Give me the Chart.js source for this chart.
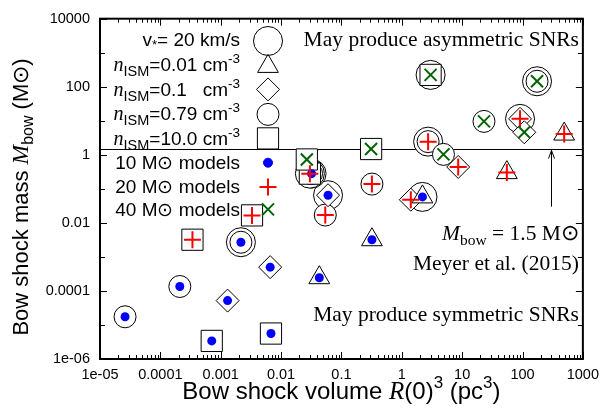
<!DOCTYPE html>
<html>
<head>
<meta charset="utf-8">
<script src="https://cdn.jsdelivr.net/npm/chart.js@4/dist/chart.umd.min.js"></script>
<style>
  html, body { margin: 0; padding: 0; background: #fff; }
  #wrap { width: 606px; height: 416px; }
</style>
</head>
<body>
<div id="wrap"><canvas id="bowChart"></canvas></div>
<script>
// Axis ticks
const xTickValues = [1e-5, 1e-4, 1e-3, 1e-2, 1e-1, 1, 10, 100, 1000];
const xTickLabels = ['1e-05', '0.0001', '0.001', '0.01', '0.1', '1', '10', '100', '1000'];
const yTickValues = [1e-6, 1e-4, 1e-2, 1, 100, 10000];
const yTickLabels = ['1e-06', '0.0001', '0.01', '1', '100', '10000'];

// 10 Msun models: bow shock volume (pc^3), bow shock mass (Msun), n_ISM, v=20 km/s flag
const m10Volume = [2.6e-5, 2.1e-4, 7.1e-4, 1.3e-3, 2.16e-3, 6.6e-3, 6.8e-3, 0.043, 0.32, 0.060, 2.2, 0.032];
const m10Mass = [1.74e-5, 1.35e-4, 3.4e-6, 5.2e-5, 2.7e-3, 5.0e-4, 5.6e-6, 2.45e-4, 3.2e-3, 0.065, 0.058, 0.28];
const m10Density = ['0.79', '0.79', '10', '0.1', '0.79', '0.1', '10', '0.01', '0.01', '0.1', '0.01', '0.79'];
const m10Fast = [0, 0, 0, 0, 1, 0, 0, 0, 0, 1, 1, 1];

// 20 Msun models
const m20Volume = [3.4e-4, 3.3e-3, 0.054, 0.32, 1.41, 2.73, 8.6, 55, 91, 490, 0.030];
const m20Mass = [3.2e-3, 0.0166, 0.017, 0.138, 0.048, 2.44, 0.44, 0.30, 11.4, 4.07, 0.28];
const m20Density = ['10', '10', '0.79', '0.79', '0.1', '0.79', '0.1', '0.01', '0.1', '0.01', '10'];
const m20Fast = [0, 0, 0, 0, 0, 1, 0, 0, 1, 0, 1];

// 40 Msun models
const m40Volume = [0.0267, 0.31, 4.9, 23, 3.0, 174, 107];
const m40Mass = [0.73, 1.48, 1.03, 9.6, 223, 145, 4.6];
const m40Density = ['10', '10', '0.79', '0.79', '10', '0.79', '0.1'];
const m40Fast = [0, 0, 0, 0, 1, 1, 0];

// Meyer et al. (2015) reference mass and arrow
const meyerMass = 1.5;
const arrowVolume = 300;
const arrowBase = 0.03;

const sans = 'Liberation Sans, Arial, sans-serif';
const serif = 'Liberation Serif, Times New Roman, serif';
const sun = '\u2299';

const densityStyle = {
  '0.01': { pointStyle: 'triangle', radius: 12 },
  '0.1': { pointStyle: 'rectRot', radius: 11.5 },
  '0.79': { pointStyle: 'circle', radius: 11 },
  '10': { pointStyle: 'rect', radius: 15 }
};
const bigRadius = 14.5;

const groups = [
  { vol: m10Volume, mass: m10Mass, dens: m10Density, fast: m10Fast, style: 'circle', radius: 4.5, color: '#0000ff', width: 0 },
  { vol: m20Volume, mass: m20Mass, dens: m20Density, fast: m20Fast, style: 'cross', radius: 8.5, color: '#ff0000', width: 2 },
  { vol: m40Volume, mass: m40Mass, dens: m40Density, fast: m40Fast, style: 'crossRot', radius: 8.5, color: '#006400', width: 2 }
];

function pick(test) {
  const out = [];
  groups.forEach(g => g.vol.forEach((v, i) => {
    if (test(g, i)) out.push({ x: v, y: g.mass[i] });
  }));
  return out;
}

const datasets = [];
// v = 20 km/s big circles (bottom layer)
datasets.push({
  data: pick((g, i) => g.fast[i]),
  pointStyle: 'circle', pointRadius: bigRadius,
  pointBackgroundColor: '#fff', pointBorderColor: '#000', pointBorderWidth: 1,
  order: 5
});
// density shapes
Object.keys(densityStyle).forEach((key, k) => {
  datasets.push({
    data: pick((g, i) => g.dens[i] === key),
    pointStyle: densityStyle[key].pointStyle, pointRadius: densityStyle[key].radius,
    pointBackgroundColor: '#fff', pointBorderColor: '#000', pointBorderWidth: 1,
    order: 4
  });
});
// model markers on top
groups.forEach((g, k) => {
  datasets.push({
    data: g.vol.map((v, i) => ({ x: v, y: g.mass[i] })),
    pointStyle: g.style, pointRadius: g.radius,
    pointBackgroundColor: g.color, pointBorderColor: g.color, pointBorderWidth: g.width,
    order: 2 - k
  });
});

// draw text made of several font pieces
function drawRich(ctx, parts, x, y, align) {
  let total = 0;
  parts.forEach(p => { ctx.font = p.f; p.w = ctx.measureText(p.t).width; total += p.w; });
  let cx = align === 'right' ? x - total : align === 'center' ? x - total / 2 : x;
  ctx.textAlign = 'left';
  ctx.textBaseline = 'alphabetic';
  parts.forEach(p => {
    ctx.font = p.f;
    ctx.fillText(p.t, cx, y + (p.dy || 0));
    cx += p.w;
  });
}

function drawMarker(ctx, style, x, y, r) {
  ctx.beginPath();
  if (style === 'circle') {
    ctx.arc(x, y, r, 0, Math.PI * 2);
  } else if (style === 'triangle') {
    ctx.moveTo(x, y - r);
    ctx.lineTo(x + r * Math.sin(2 * Math.PI / 3), y - r * Math.cos(2 * Math.PI / 3));
    ctx.lineTo(x + r * Math.sin(4 * Math.PI / 3), y - r * Math.cos(4 * Math.PI / 3));
    ctx.closePath();
  } else if (style === 'rectRot') {
    ctx.moveTo(x - r, y); ctx.lineTo(x, y - r); ctx.lineTo(x + r, y); ctx.lineTo(x, y + r);
    ctx.closePath();
  } else if (style === 'rect') {
    const s = Math.SQRT1_2 * r;
    ctx.rect(x - s, y - s, 2 * s, 2 * s);
  } else if (style === 'cross') {
    ctx.moveTo(x - r, y); ctx.lineTo(x + r, y); ctx.moveTo(x, y - r); ctx.lineTo(x, y + r);
    ctx.stroke();
    return;
  } else if (style === 'crossRot') {
    const s = Math.SQRT1_2 * r;
    ctx.moveTo(x - s, y - s); ctx.lineTo(x + s, y + s); ctx.moveTo(x - s, y + s); ctx.lineTo(x + s, y - s);
    ctx.stroke();
    return;
  }
  ctx.fill();
  if (ctx.lineWidth > 0) ctx.stroke();
}

const decorPlugin = {
  id: 'decor',
  beforeDatasetsDraw(chart) {
    const { ctx, chartArea, scales } = chart;
    const yl = Math.round(scales.y.getPixelForValue(meyerMass)) + 0.5;
    const xa = Math.round(scales.x.getPixelForValue(arrowVolume)) + 0.5;
    const yb = scales.y.getPixelForValue(arrowBase);
    ctx.save();
    ctx.strokeStyle = '#000';
    ctx.lineWidth = 1;
    ctx.beginPath();
    ctx.moveTo(chartArea.left, yl);
    ctx.lineTo(chartArea.right, yl);
    ctx.moveTo(xa, yb);
    ctx.lineTo(xa, yl + 1);
    ctx.moveTo(xa - 3, yl + 9);
    ctx.lineTo(xa, yl + 1);
    ctx.lineTo(xa + 3, yl + 9);
    ctx.stroke();
    ctx.restore();
  },
  afterDraw(chart) {
    const { ctx, chartArea: a, scales } = chart;
    ctx.save();
    ctx.fillStyle = '#000';
    ctx.strokeStyle = '#000';

    // inward ticks
    ctx.lineWidth = 1;
    ctx.beginPath();
    for (let d = Math.log10(scales.x.min); d < Math.log10(scales.x.max) + 0.5; d++) {
      for (let m = 1; m <= 9; m++) {
        const v = m * Math.pow(10, d);
        if (v > scales.x.max * 1.0001) break;
        const px = Math.round(scales.x.getPixelForValue(v)) + 0.5;
        const len = m === 1 ? 7 : 4;
        ctx.moveTo(px, a.bottom); ctx.lineTo(px, a.bottom - len);
        ctx.moveTo(px, a.top); ctx.lineTo(px, a.top + len);
      }
    }
    for (let d = Math.log10(scales.y.min); d <= Math.log10(scales.y.max) + 0.01; d++) {
      const py = Math.round(scales.y.getPixelForValue(Math.pow(10, d))) + 0.5;
      const len = d % 2 === 0 ? 7 : 5;
      ctx.moveTo(a.left, py); ctx.lineTo(a.left + len, py);
      ctx.moveTo(a.right, py); ctx.lineTo(a.right - len, py);
    }
    ctx.stroke();

    // frame
    ctx.lineWidth = 2;
    ctx.strokeRect(a.left, a.top, a.right - a.left, a.bottom - a.top);

    // axis titles
    drawRich(ctx, [
      { t: 'Bow shock volume ', f: '24px ' + sans },
      { t: 'R', f: 'italic 25px ' + serif },
      { t: '(0)', f: '24px ' + sans },
      { t: '3', f: '17px ' + sans, dy: -11 },
      { t: ' (pc', f: '24px ' + sans },
      { t: '3', f: '17px ' + sans, dy: -11 },
      { t: ')', f: '24px ' + sans }
    ], (a.left + a.right) / 2, 399, 'center');

    ctx.save();
    ctx.translate(28, 197);
    ctx.rotate(-Math.PI / 2);
    drawRich(ctx, [
      { t: 'Bow shock mass ', f: '22px ' + sans },
      { t: 'M', f: 'italic 23.5px ' + serif },
      { t: 'bow', f: '16px ' + sans, dy: 5 },
      { t: ' (M' + sun + ')', f: '22px ' + sans }
    ], 0, 0, 'center');
    ctx.restore();

    // legend
    const lx = a.left + 140;
    const mx = a.left + 168;
    const nRow = (val) => [
      { t: 'n', f: 'italic 20px ' + serif },
      { t: 'ISM', f: '14.5px ' + sans, dy: 5 },
      { t: val + ' cm', f: '19px ' + sans },
      { t: '-3', f: '13.5px ' + sans, dy: -8 }
    ];
    drawRich(ctx, [
      { t: 'v', f: '19px ' + sans },
      { t: '*', f: '13px ' + sans, dy: 3 },
      { t: '= 20 km/s', f: '19px ' + sans }
    ], lx, a.top + 27.5, 'right');
    drawRich(ctx, nRow('=0.01'), lx, a.top + 52.5, 'right');
    drawRich(ctx, nRow('=0.1  '), lx, a.top + 77, 'right');
    drawRich(ctx, nRow('=0.79'), lx, a.top + 101, 'right');
    drawRich(ctx, nRow('=10.0'), lx, a.top + 126, 'right');
    drawRich(ctx, [{ t: '10 M' + sun + ' models', f: '19px ' + sans }], lx, a.top + 150.5, 'right');
    drawRich(ctx, [{ t: '20 M' + sun + ' models', f: '19px ' + sans }], lx, a.top + 174.5, 'right');
    drawRich(ctx, [{ t: '40 M' + sun + ' models', f: '19px ' + sans }], lx, a.top + 197, 'right');

    ctx.fillStyle = '#fff';
    ctx.lineWidth = 1;
    drawMarker(ctx, 'circle', mx, a.top + 22.3, bigRadius);
    drawMarker(ctx, 'triangle', mx, a.top + 47.7, densityStyle['0.01'].radius);
    drawMarker(ctx, 'rectRot', mx, a.top + 70.7, densityStyle['0.1'].radius);
    drawMarker(ctx, 'circle', mx, a.top + 95.7, densityStyle['0.79'].radius);
    drawMarker(ctx, 'rect', mx, a.top + 119.7, densityStyle['10'].radius);
    groups.forEach((g, k) => {
      ctx.fillStyle = g.color;
      ctx.strokeStyle = g.color;
      ctx.lineWidth = g.width;
      drawMarker(ctx, g.style, mx, a.top + [144, 168.3, 190.7][k], g.radius);
    });

    // annotations
    ctx.fillStyle = '#000';
    const rx = a.right - 4;
    drawRich(ctx, [{ t: 'May produce asymmetric SNRs', f: '21.5px ' + serif }], rx, a.top + 27, 'right');
    drawRich(ctx, [
      { t: 'M', f: 'italic 21.5px ' + serif },
      { t: 'bow', f: '15.5px ' + serif, dy: 5 },
      { t: ' = 1.5 M' + sun, f: '21.5px ' + serif }
    ], rx, a.top + 221, 'right');
    drawRich(ctx, [{ t: 'Meyer et al. (2015)', f: '21.5px ' + serif }], rx, a.top + 251, 'right');
    drawRich(ctx, [{ t: 'May produce symmetric SNRs', f: '21.5px ' + serif }], rx, a.top + 302, 'right');
    ctx.restore();
  }
};

const bowChart = new Chart(document.getElementById('bowChart'), {
  type: 'scatter',
  data: { datasets: datasets },
  options: {
    responsive: true,
    maintainAspectRatio: false,
    animation: false,
    events: [],
    layout: { padding: { top: 11, right: 18, left: 0, bottom: 0 } },
    plugins: {
      legend: { display: false },
      tooltip: { enabled: false }
    },
    elements: { point: { hoverRadius: 0 } },
    datasets: { scatter: { clip: false } },
    scales: {
      x: {
        type: 'logarithmic',
        min: 1e-5,
        max: 1000,
        afterBuildTicks: (scale) => { scale.ticks = xTickValues.map(v => ({ value: v })); },
        afterFit: (scale) => { scale.height = 57; },
        grid: { display: false, drawTicks: false },
        border: { display: false },
        ticks: {
          autoSkip: false,
          maxRotation: 0,
          padding: 7,
          color: '#000',
          font: { family: sans, size: 14.5 },
          callback: (value, index) => xTickLabels[index]
        }
      },
      y: {
        type: 'logarithmic',
        min: 1e-6,
        max: 10000,
        afterBuildTicks: (scale) => { scale.ticks = yTickValues.map(v => ({ value: v })); },
        afterFit: (scale) => { scale.width = 100; },
        grid: { display: false, drawTicks: false },
        border: { display: false },
        ticks: {
          autoSkip: false,
          padding: 10,
          color: '#000',
          font: { family: sans, size: 14.5 },
          callback: (value, index) => yTickLabels[index]
        }
      }
    }
  },
  plugins: [decorPlugin]
});
</script>
</body>
</html>
